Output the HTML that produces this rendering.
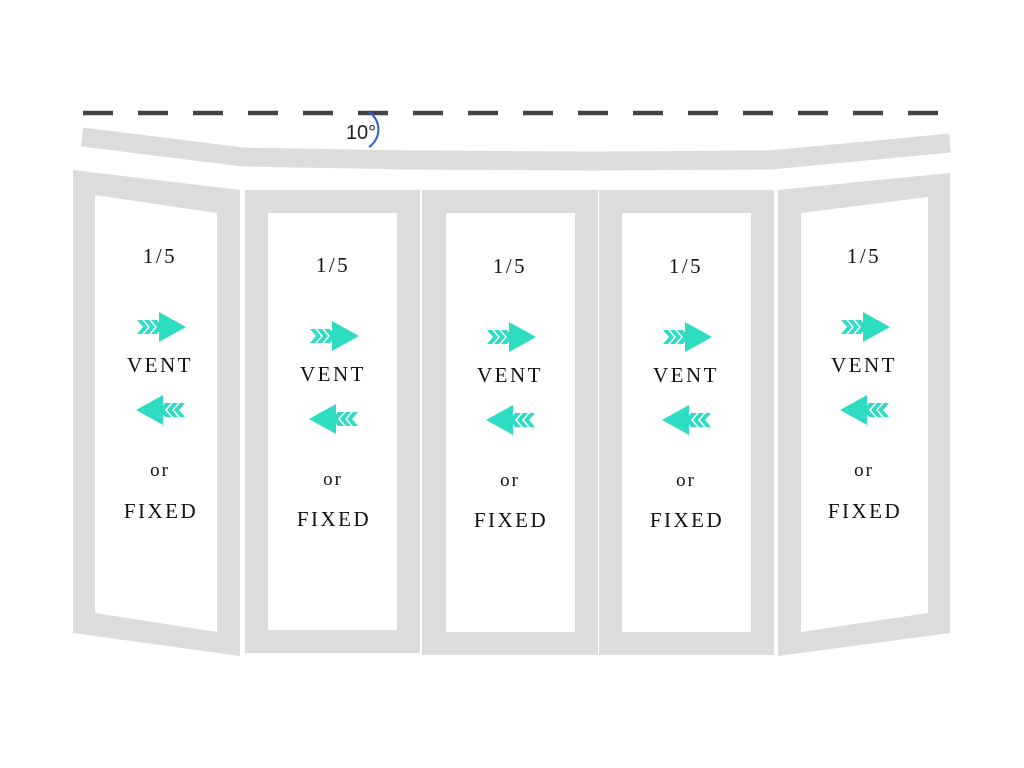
<!DOCTYPE html>
<html><head><meta charset="utf-8"><style>
html,body{margin:0;padding:0;background:#fff;}
svg{display:block}
text{font-family:"Liberation Serif",serif;fill:#111;text-anchor:middle;}
.t{font-size:21px;letter-spacing:2.5px}
.o{font-size:19px;letter-spacing:2px}
</style></head><body>
<svg width="1024" height="768" viewBox="0 0 1024 768" xmlns="http://www.w3.org/2000/svg">
<defs>
<g id="ar" fill="#2edcc2">
<polygon points="-2,-15 25,0 -2,15"/>
<polygon points="-24,-7 -19,-7 -13,0 -19,7 -24,7 -18,0"/>
<polygon points="-17,-7 -12,-7 -6,0 -12,7 -17,7 -11,0"/>
<polygon points="-10,-7 -4,-7 1,0 -4,7 -10,7 -4,0"/>
</g>
<g id="al"><use href="#ar" transform="scale(-1,1)"/></g>
</defs>
<line x1="83" y1="113" x2="945" y2="113" stroke="#444" stroke-width="4.5" stroke-dasharray="30 25"/>
<polyline points="82,137 243,157 410,160 590,161 770,160 950,143" fill="none" stroke="#dcdcdc" stroke-width="19" stroke-linejoin="miter"/>
<path d="M369,112 A21,21 0 0 1 369,147" fill="none" stroke="#2f5bd6" stroke-width="2"/>
<text x="361" y="139" style="font-family:'Liberation Sans',sans-serif;font-size:20px;fill:#222">10°</text>
<g fill="#dcdcdc" fill-rule="evenodd">
<path d="M73,170 L240,190 L240,656 L73,633 Z M95,195 L217,213 L217,632 L95,613 Z"/>
<path d="M245,190 L420,190 L420,653 L245,653 Z M268,213 L397,213 L397,630 L268,630 Z"/>
<path d="M422,190 L598,190 L598,655 L422,655 Z M446,213 L575,213 L575,632 L446,632 Z"/>
<path d="M599,190 L774,190 L774,655 L599,655 Z M622,213 L751,213 L751,632 L622,632 Z"/>
<path d="M778,190 L950,173 L950,633 L778,656 Z M801,213 L928,197 L928,613 L801,632 Z"/>
</g>
<g>
<text class="t" x="160" y="263">1/5</text>
<use href="#ar" x="161" y="327"/>
<text class="t" x="160" y="372">VENT</text>
<use href="#al" x="161" y="410"/>
<text class="o" x="160" y="476">or</text>
<text class="t" x="161" y="518">FIXED</text>
</g>
<g>
<text class="t" x="333" y="272">1/5</text>
<use href="#ar" x="334" y="336"/>
<text class="t" x="333" y="381">VENT</text>
<use href="#al" x="334" y="419"/>
<text class="o" x="333" y="485">or</text>
<text class="t" x="334" y="526">FIXED</text>
</g>
<g>
<text class="t" x="510" y="273">1/5</text>
<use href="#ar" x="511" y="337"/>
<text class="t" x="510" y="382">VENT</text>
<use href="#al" x="511" y="420"/>
<text class="o" x="510" y="486">or</text>
<text class="t" x="511" y="527">FIXED</text>
</g>
<g>
<text class="t" x="686" y="273">1/5</text>
<use href="#ar" x="687" y="337"/>
<text class="t" x="686" y="382">VENT</text>
<use href="#al" x="687" y="420"/>
<text class="o" x="686" y="486">or</text>
<text class="t" x="687" y="527">FIXED</text>
</g>
<g>
<text class="t" x="864" y="263">1/5</text>
<use href="#ar" x="865" y="327"/>
<text class="t" x="864" y="372">VENT</text>
<use href="#al" x="865" y="410"/>
<text class="o" x="864" y="476">or</text>
<text class="t" x="865" y="518">FIXED</text>
</g>
</svg>
</body></html>
